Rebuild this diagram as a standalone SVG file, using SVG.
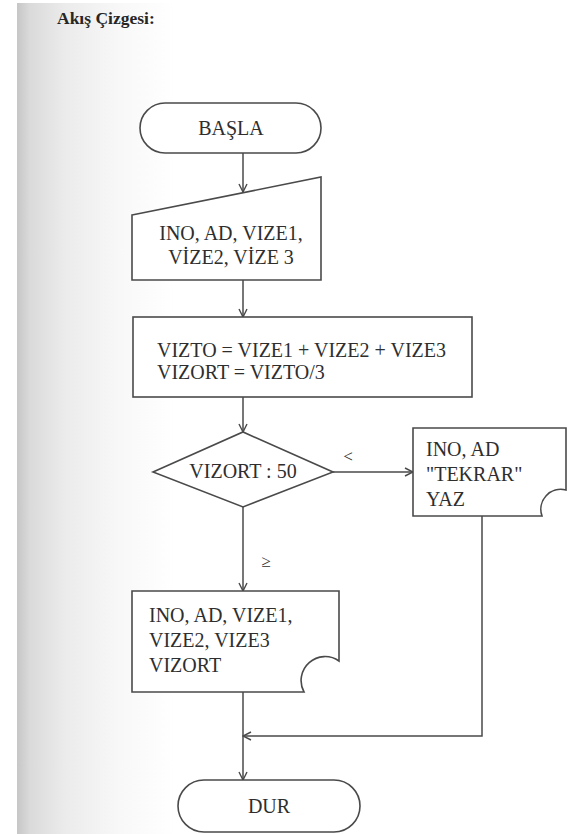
<svg xmlns="http://www.w3.org/2000/svg" width="577" height="834" viewBox="0 0 577 834">
  <defs>
    <linearGradient id="pageShade" gradientUnits="userSpaceOnUse" x1="17" y1="0" x2="175" y2="0">
      <stop offset="0" stop-color="#c6c6c6"/>
      <stop offset="0.08" stop-color="#dadada"/>
      <stop offset="0.3" stop-color="#ebebeb"/>
      <stop offset="0.65" stop-color="#f8f8f8"/>
      <stop offset="1" stop-color="#ffffff"/>
    </linearGradient>
    <marker id="arrow" viewBox="0 0 10 10" refX="9" refY="5" markerWidth="10" markerHeight="10" markerUnits="userSpaceOnUse" orient="auto">
      <path d="M1,1 L9,5 L1,9" fill="none" stroke="#4a4a4a" stroke-width="1.4"/>
    </marker>
    <style>
      .shape { fill: #ffffff; stroke: #4a4a4a; stroke-width: 1.6; }
      .line { fill: none; stroke: #4a4a4a; stroke-width: 1.5; }
      .txt { font-family: "Liberation Serif", "Times New Roman", serif; font-size: 20px; fill: #2e2e2e; }
      .sym { font-family: "Liberation Serif", "Times New Roman", serif; font-size: 17px; fill: #2e2e2e; text-anchor: middle; }
      .mid { text-anchor: middle; }
      .title { font-family: "Liberation Serif", "Times New Roman", serif; font-size: 17.5px; font-weight: bold; fill: #262626; }
    </style>
  </defs>

  <!-- page background with binding shadow on the left -->
  <rect x="0" y="0" width="577" height="834" fill="#ffffff"/>
  <rect x="17" y="3" width="560" height="831" fill="url(#pageShade)"/>

  <text class="title" x="57" y="24">Akış Çizgesi:</text>

  <!-- connectors -->
  <g id="connectors">
    <line class="line" x1="243" y1="153" x2="243" y2="192" marker-end="url(#arrow)"/>
    <line class="line" x1="243" y1="280" x2="243" y2="317" marker-end="url(#arrow)"/>
    <line class="line" x1="243" y1="397" x2="243" y2="432" marker-end="url(#arrow)"/>
    <line class="line" x1="333" y1="472" x2="413" y2="472" marker-end="url(#arrow)"/>
    <line class="line" x1="243" y1="507" x2="243" y2="591" marker-end="url(#arrow)"/>
    <polyline class="line" points="482,516 482,736 243,736" marker-end="url(#arrow)"/>
    <line class="line" x1="243" y1="692" x2="243" y2="780" marker-end="url(#arrow)"/>
    <text class="sym" x="348" y="462">&lt;</text>
    <text class="sym" x="266" y="567">≥</text>
  </g>

  <!-- start -->
  <g id="start">
    <rect class="shape" x="140" y="103" width="181" height="50" rx="25" ry="25"/>
    <text class="txt mid" x="231" y="135">BAŞLA</text>
  </g>

  <!-- manual input -->
  <g id="input">
    <polygon class="shape" points="132,215 321,177 321,280 132,280"/>
    <text class="txt mid" x="231" y="240">INO, AD, VIZE1,</text>
    <text class="txt mid" x="231" y="264">VİZE2, VİZE 3</text>
  </g>

  <!-- process -->
  <g id="process">
    <rect class="shape" x="133" y="317" width="339" height="80"/>
    <text class="txt" x="157" y="357">VIZTO = VIZE1 + VIZE2 + VIZE3</text>
    <text class="txt" x="157" y="379">VIZORT = VIZTO/3</text>
  </g>

  <!-- decision -->
  <g id="decision">
    <polygon class="shape" points="153,472 243,432 333,472 243,507"/>
    <text class="txt mid" x="243" y="478">VIZORT : 50</text>
  </g>

  <!-- output: retry message -->
  <g id="output-retry">
    <path class="shape" d="M413,428 H566 V490 A20 20 0 0 0 542,516 H413 Z"/>
    <text class="txt" x="426" y="456">INO, AD</text>
    <text class="txt" x="426" y="481">"TEKRAR"</text>
    <text class="txt" x="426" y="506">YAZ</text>
  </g>

  <!-- output: results -->
  <g id="output-result">
    <path class="shape" d="M132,591 H339 V661 A24 24 0 0 0 304,692 H132 Z"/>
    <text class="txt" x="149" y="622">INO, AD, VIZE1,</text>
    <text class="txt" x="149" y="647">VIZE2, VIZE3</text>
    <text class="txt" x="149" y="672">VIZORT</text>
  </g>

  <!-- end -->
  <g id="end">
    <rect class="shape" x="178" y="780" width="182" height="52" rx="26" ry="26"/>
    <text class="txt mid" x="269" y="813">DUR</text>
  </g>
</svg>
